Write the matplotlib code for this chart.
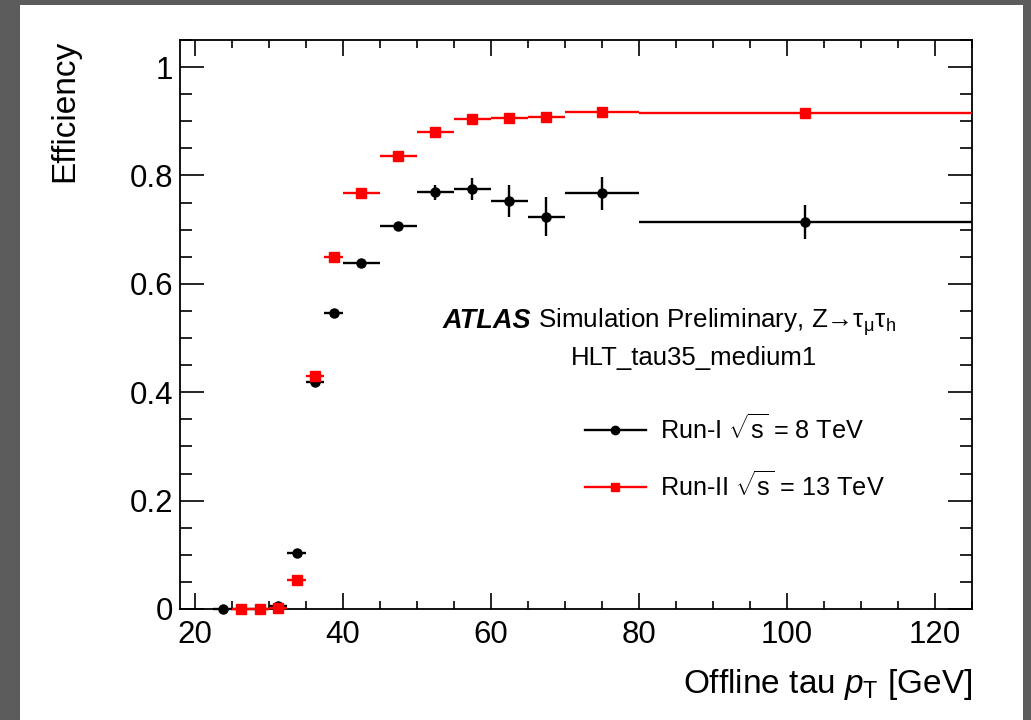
import matplotlib
matplotlib.use('Agg')
import matplotlib.pyplot as plt
from matplotlib.lines import Line2D
from matplotlib.patches import Rectangle
from matplotlib.ticker import MultipleLocator, FuncFormatter
import numpy as np

plt.rcParams['font.family'] = ['Liberation Sans', 'DejaVu Sans']
plt.rcParams['mathtext.fontset'] = 'custom'
plt.rcParams['mathtext.rm'] = 'Liberation Sans'
plt.rcParams['mathtext.it'] = 'Liberation Sans:italic'
plt.rcParams['mathtext.bf'] = 'Liberation Sans:bold'

# ── 数据 ──
bin_edges = [22.5, 25, 27.5, 30, 32.5, 35, 37.5, 40, 45, 50, 55, 60, 65, 70, 80, 125]

run1_eff = [0.0, 0.0, 0.0, 0.005, 0.104, 0.419, 0.546, 0.639, 0.707,
            0.769, 0.775, 0.753, 0.724, 0.767, 0.714]
run1_err = [0.0, 0.0, 0.0, 0.003, 0.004, 0.005, 0.006, 0.006, 0.008,
            0.014, 0.020, 0.030, 0.036, 0.030, 0.031]

# Run-II 从 25 GeV 开始
run2_eff = [0.0, 0.0, 0.002, 0.0535, 0.430, 0.650, 0.7675, 0.836,
            0.881, 0.905, 0.906, 0.907, 0.917, 0.916]
run2_err = [0.0, 0.0, 0.002, 0.003, 0.004, 0.004, 0.004, 0.004,
            0.005, 0.008, 0.008, 0.011, 0.006, 0.006]

labels = [r'Run-I $\sqrt{\mathrm{s}}$ = 8 TeV', r'Run-II $\sqrt{\mathrm{s}}$ = 13 TeV']

edges = np.array(bin_edges)
x1 = (edges[:-1] + edges[1:]) / 2
xe1 = (edges[1:] - edges[:-1]) / 2
x2, xe2 = x1[1:], xe1[1:]

W, H = 1031, 720
fig = plt.figure(figsize=(W / 100, H / 100), dpi=100)
fig.patch.set_facecolor('#5c5c5c')
fig.patches.append(Rectangle((20 / W, 0), 1003 / W, 715 / H, transform=fig.transFigure,
                             facecolor='white', edgecolor='none', zorder=-10))

ax = fig.add_axes([180 / W, 1 - 609 / H, (972 - 180) / W, (609 - 40) / H])
ax.set_xlim(18, 125)
ax.set_ylim(0, 1.05)

eb1 = ax.errorbar(x1, run1_eff, xerr=xe1, yerr=run1_err, fmt='o', color='black',
                  ms=6.5, elinewidth=1.7, capsize=0, zorder=3)
eb2 = ax.errorbar(x2, run2_eff, xerr=xe2, yerr=run2_err, fmt='s', color='red',
                  ms=6.5, elinewidth=1.7, capsize=0, zorder=4)
for eb in (eb1, eb2):
    for a in eb.get_children():
        a.set_clip_on(False)

# 刻度 (ROOT风格)
ax.xaxis.set_major_locator(MultipleLocator(20))
ax.xaxis.set_minor_locator(MultipleLocator(5))
ax.yaxis.set_major_locator(MultipleLocator(0.2))
ax.yaxis.set_minor_locator(MultipleLocator(0.05))
ax.yaxis.set_major_formatter(FuncFormatter(lambda v, p: f'{v:g}'))
ax.tick_params(which='both', direction='in', top=True, right=True, width=1.2,
               labelsize=22.5, colors='black')
ax.tick_params(axis='x', which='major', length=11.5, pad=8)
ax.tick_params(axis='x', which='minor', length=5.8)
ax.tick_params(axis='y', which='major', length=17, pad=5)
ax.tick_params(axis='y', which='minor', length=8.6)
for s in ax.spines.values():
    s.set_linewidth(1.3)

# 轴标题
fig.text(972 / W, 1 - 693 / H, r'Offline tau $p_{\mathrm{T}}$ [GeV]', fontsize=24,
         ha='right', va='baseline')
fig.text(65 / W, 1 - 40 / H, 'Efficiency', fontsize=24, rotation=90,
         ha='center', va='top')

# 注释
fig.text(443 / W, 1 - 328 / H, 'ATLAS', fontsize=19.5, fontweight='bold', style='italic',
         ha='left', va='baseline')
fig.text(538 / W, 1 - 328 / H,
         r'Simulation Preliminary, Z→τ$_{\mathrm{\mu}}$τ$_{\mathrm{h}}$',
         fontsize=18.7, ha='left', va='baseline')
fig.text(571 / W, 1 - 365 / H, 'HLT_tau35_medium1', fontsize=18.5, ha='left', va='baseline')

handles = [Line2D([], [], color='black', marker='o', ms=6, lw=1.7),
           Line2D([], [], color='red', marker='s', ms=6, lw=1.7)]
ax.legend(handles, labels, loc='upper left', bbox_to_anchor=((585 - 180) / 792, (609 - 414) / 569),
          frameon=False, fontsize=18.2, handlelength=2.4, handletextpad=0.55,
          labelspacing=1.1, borderpad=0, borderaxespad=0)

fig.savefig('out.png', dpi=100, facecolor=fig.get_facecolor())
